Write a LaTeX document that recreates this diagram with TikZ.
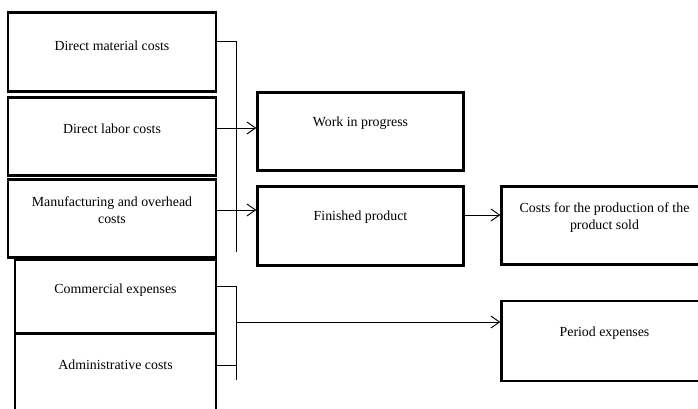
\documentclass[tikz,border=0pt]{standalone}
\usepackage{fontspec}
\setmainfont{Liberation Serif}
\usetikzlibrary{arrows.meta}
\usetikzlibrary{positioning}

\begin{document}
\begin{tikzpicture}[x=0.75pt,y=-0.75pt,
    box/.style={draw, line width=2.2pt, minimum width=156pt, minimum height=59pt, inner sep=0pt},
    conn/.style={line width=0.7pt},
    arr/.style={conn, -{Straight Barb[length=6.5pt,width=9pt]}},
    txt/.style={font=\fontsize{10.4}{12.8}\selectfont, align=center}]
\clip (0,0) rectangle (698,408);

    % cost boxes on the left
    \node[box, label={[txt,yshift=5pt]center:Direct material costs}] (dmc) at (112,52) {};
    \node[box, label={[txt,yshift=6pt]center:Direct labor costs}] (dlc) at (112,136.5) {};
    \node[box, label={[txt,yshift=6pt]center:Manufacturing and overhead\\costs}] (moc) at (112,218.5) {};
    \node[box, minimum width=150.75pt, minimum height=56pt, label={[txt,yshift=5pt]center:Commercial expenses}] (com) at (115.5,296.5) {};
    \node[box, minimum width=150.75pt, minimum height=80pt, label={[txt,yshift=16.5pt]center:Administrative costs}] (adm) at (115.5,387) {};

    % middle boxes
    \node[box, minimum width=154pt, label={[txt,yshift=6pt]center:Work in progress}] (wip) at (360.5,131.5) {};
    \node[box, minimum width=154pt, label={[txt,yshift=7pt]center:Finished product}] (fp) at (360.5,226) {};

    % result boxes, cut by the right edge
    \node[box, minimum width=154pt, label={[txt,yshift=6pt]center:Costs for the production of the\\product sold}] (cps) at (604.5,225.5) {};
    \node[box, minimum width=154pt, minimum height=60pt, label={[txt,yshift=6pt]center:Period expenses}] (pe) at (604.5,341) {};

    % bracket and arrow rows
    \coordinate (b1top) at (236,41);
    \coordinate (b1bot) at (236,252);
    \coordinate (b2top) at (236,286);
    \coordinate (b2bot) at (236,380);
    \coordinate (b2mid) at (236,322);
    \coordinate (r1) at (0,128);
    \coordinate (r2) at (0,210);
    \coordinate (r3) at (0,215);
    \coordinate (r4) at (0,365);

    \draw[conn] (dmc.east |- b1top) -- (b1top) -- (b1bot);
    \draw[arr] (dlc.east |- r1) -- (wip.west |- r1);
    \draw[arr] (moc.east |- r2) -- (fp.west |- r2);
    \draw[arr] (fp.east |- r3) -- (cps.west |- r3);

    \draw[conn] (com.east |- b2top) -- (b2top) -- (b2bot);
    \draw[conn] (adm.east |- r4) -- (b2top |- r4);
    \draw[arr] (b2mid) -- (pe.west |- b2mid);

\end{tikzpicture}
\end{document}
